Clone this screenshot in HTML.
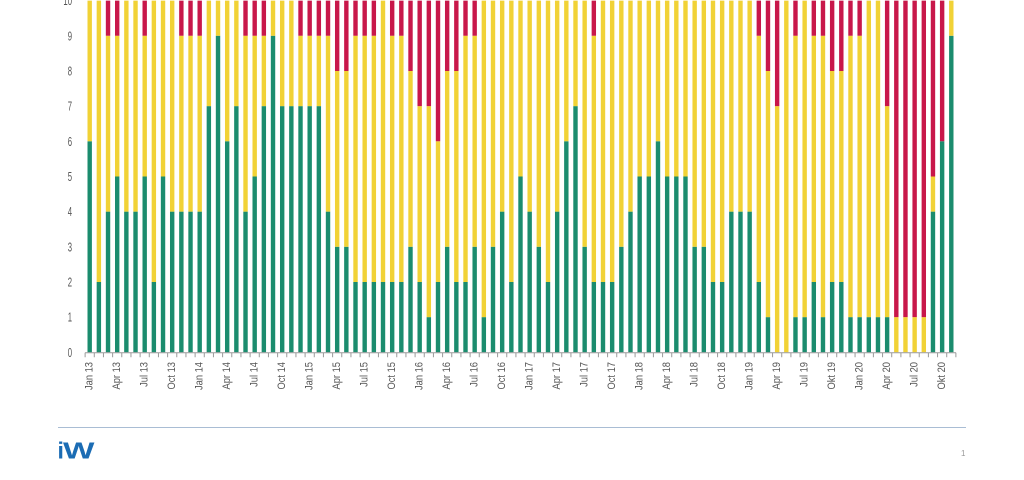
<!DOCTYPE html>
<html><head><meta charset="utf-8"><style>
html,body{margin:0;padding:0;background:#fff;}
svg{display:block;}
text{font-family:"Liberation Sans",sans-serif;}
</style></head><body>
<svg width="1024" height="480" viewBox="0 0 1024 480" xmlns="http://www.w3.org/2000/svg">
<rect width="1024" height="480" fill="#fff"/>
<g fill="none" stroke-width="4.4" stroke-linecap="butt">
<path stroke="#1b8c6e" d="M89.7 141.28V352.3M98.87 281.96V352.3M108.03 211.62V352.3M117.2 176.45V352.3M126.36 211.62V352.3M135.53 211.62V352.3M144.7 176.45V352.3M153.86 281.96V352.3M163.03 176.45V352.3M172.19 211.62V352.3M181.36 211.62V352.3M190.53 211.62V352.3M199.69 211.62V352.3M208.86 106.11V352.3M218.02 35.77V352.3M227.19 141.28V352.3M236.36 106.11V352.3M245.52 211.62V352.3M254.69 176.45V352.3M263.85 106.11V352.3M273.02 35.77V352.3M282.19 106.11V352.3M291.35 106.11V352.3M300.52 106.11V352.3M309.68 106.11V352.3M318.85 106.11V352.3M328.02 211.62V352.3M337.18 246.79V352.3M346.35 246.79V352.3M355.51 281.96V352.3M364.68 281.96V352.3M373.85 281.96V352.3M383.01 281.96V352.3M392.18 281.96V352.3M401.34 281.96V352.3M410.51 246.79V352.3M419.68 281.96V352.3M428.84 317.13V352.3M438.01 281.96V352.3M447.17 246.79V352.3M456.34 281.96V352.3M465.51 281.96V352.3M474.67 246.79V352.3M483.84 317.13V352.3M493 246.79V352.3M502.17 211.62V352.3M511.34 281.96V352.3M520.5 176.45V352.3M529.67 211.62V352.3M538.83 246.79V352.3M548 281.96V352.3M557.17 211.62V352.3M566.33 141.28V352.3M575.5 106.11V352.3M584.66 246.79V352.3M593.83 281.96V352.3M603 281.96V352.3M612.16 281.96V352.3M621.33 246.79V352.3M630.49 211.62V352.3M639.66 176.45V352.3M648.83 176.45V352.3M657.99 141.28V352.3M667.16 176.45V352.3M676.32 176.45V352.3M685.49 176.45V352.3M694.66 246.79V352.3M703.82 246.79V352.3M712.99 281.96V352.3M722.15 281.96V352.3M731.32 211.62V352.3M740.49 211.62V352.3M749.65 211.62V352.3M758.82 281.96V352.3M767.98 317.13V352.3M795.48 317.13V352.3M804.65 317.13V352.3M813.81 281.96V352.3M822.98 317.13V352.3M832.15 281.96V352.3M841.31 281.96V352.3M850.48 317.13V352.3M859.64 317.13V352.3M868.81 317.13V352.3M877.98 317.13V352.3M887.14 317.13V352.3M932.97 211.62V352.3M942.14 141.28V352.3M951.3 35.77V352.3"/>
<path stroke="#f1d236" d="M89.7 0.6V141.28M98.87 0.6V281.96M108.03 35.77V211.62M117.2 35.77V176.45M126.36 0.6V211.62M135.53 0.6V211.62M144.7 35.77V176.45M153.86 0.6V281.96M163.03 0.6V176.45M172.19 0.6V211.62M181.36 35.77V211.62M190.53 35.77V211.62M199.69 35.77V211.62M208.86 0.6V106.11M218.02 0.6V35.77M227.19 0.6V141.28M236.36 0.6V106.11M245.52 35.77V211.62M254.69 35.77V176.45M263.85 35.77V106.11M273.02 0.6V35.77M282.19 0.6V106.11M291.35 0.6V106.11M300.52 35.77V106.11M309.68 35.77V106.11M318.85 35.77V106.11M328.02 35.77V211.62M337.18 70.94V246.79M346.35 70.94V246.79M355.51 35.77V281.96M364.68 35.77V281.96M373.85 35.77V281.96M383.01 0.6V281.96M392.18 35.77V281.96M401.34 35.77V281.96M410.51 70.94V246.79M419.68 106.11V281.96M428.84 106.11V317.13M438.01 141.28V281.96M447.17 70.94V246.79M456.34 70.94V281.96M465.51 35.77V281.96M474.67 35.77V246.79M483.84 0.6V317.13M493 0.6V246.79M502.17 0.6V211.62M511.34 0.6V281.96M520.5 0.6V176.45M529.67 0.6V211.62M538.83 0.6V246.79M548 0.6V281.96M557.17 0.6V211.62M566.33 0.6V141.28M575.5 0.6V106.11M584.66 0.6V246.79M593.83 35.77V281.96M603 0.6V281.96M612.16 0.6V281.96M621.33 0.6V246.79M630.49 0.6V211.62M639.66 0.6V176.45M648.83 0.6V176.45M657.99 0.6V141.28M667.16 0.6V176.45M676.32 0.6V176.45M685.49 0.6V176.45M694.66 0.6V246.79M703.82 0.6V246.79M712.99 0.6V281.96M722.15 0.6V281.96M731.32 0.6V211.62M740.49 0.6V211.62M749.65 0.6V211.62M758.82 35.77V281.96M767.98 70.94V317.13M777.15 106.11V352.3M786.32 0.6V352.3M795.48 35.77V317.13M804.65 0.6V317.13M813.81 35.77V281.96M822.98 35.77V317.13M832.15 70.94V281.96M841.31 70.94V281.96M850.48 35.77V317.13M859.64 35.77V317.13M868.81 0.6V317.13M877.98 0.6V317.13M887.14 106.11V317.13M896.31 317.13V352.3M905.47 317.13V352.3M914.64 317.13V352.3M923.81 317.13V352.3M932.97 176.45V211.62M951.3 0.6V35.77"/>
<path stroke="#c8174a" d="M108.03 0.6V35.77M117.2 0.6V35.77M144.7 0.6V35.77M181.36 0.6V35.77M190.53 0.6V35.77M199.69 0.6V35.77M245.52 0.6V35.77M254.69 0.6V35.77M263.85 0.6V35.77M300.52 0.6V35.77M309.68 0.6V35.77M318.85 0.6V35.77M328.02 0.6V35.77M337.18 0.6V70.94M346.35 0.6V70.94M355.51 0.6V35.77M364.68 0.6V35.77M373.85 0.6V35.77M392.18 0.6V35.77M401.34 0.6V35.77M410.51 0.6V70.94M419.68 0.6V106.11M428.84 0.6V106.11M438.01 0.6V141.28M447.17 0.6V70.94M456.34 0.6V70.94M465.51 0.6V35.77M474.67 0.6V35.77M593.83 0.6V35.77M758.82 0.6V35.77M767.98 0.6V70.94M777.15 0.6V106.11M795.48 0.6V35.77M813.81 0.6V35.77M822.98 0.6V35.77M832.15 0.6V70.94M841.31 0.6V70.94M850.48 0.6V35.77M859.64 0.6V35.77M887.14 0.6V106.11M896.31 0.6V317.13M905.47 0.6V317.13M914.64 0.6V317.13M923.81 0.6V317.13M932.97 0.6V176.45M942.14 0.6V141.28"/>
</g>
<!-- axis -->
<path d="M85 352.8H956" stroke="#9a9a9a" stroke-width="1"/>
<path d="M84.62 355H956.5" stroke="#9a9a9a" stroke-width="4.4" stroke-dasharray="1 8.166"/>
<!-- y labels -->
<g fill="#555" font-size="12.5" text-anchor="end">
<text transform="translate(72,356.8) scale(0.62,1)">0</text>
<text transform="translate(72,321.6) scale(0.62,1)">1</text>
<text transform="translate(72,286.5) scale(0.62,1)">2</text>
<text transform="translate(72,251.3) scale(0.62,1)">3</text>
<text transform="translate(72,216.1) scale(0.62,1)">4</text>
<text transform="translate(72,181) scale(0.62,1)">5</text>
<text transform="translate(72,145.8) scale(0.62,1)">6</text>
<text transform="translate(72,110.6) scale(0.62,1)">7</text>
<text transform="translate(72,75.4) scale(0.62,1)">8</text>
<text transform="translate(72,40.3) scale(0.62,1)">9</text>
<text transform="translate(72,5.1) scale(0.62,1)">10</text>
</g>
<!-- x labels -->
<g fill="#555" font-size="11" text-anchor="end">
<text transform="translate(92.7,362) rotate(-90) scale(0.85,1)">Jan 13</text>
<text transform="translate(120.2,362) rotate(-90) scale(0.85,1)">Apr 13</text>
<text transform="translate(147.7,362) rotate(-90) scale(0.85,1)">Jul 13</text>
<text transform="translate(175.19,362) rotate(-90) scale(0.85,1)">Oct 13</text>
<text transform="translate(202.69,362) rotate(-90) scale(0.85,1)">Jan 14</text>
<text transform="translate(230.19,362) rotate(-90) scale(0.85,1)">Apr 14</text>
<text transform="translate(257.69,362) rotate(-90) scale(0.85,1)">Jul 14</text>
<text transform="translate(285.19,362) rotate(-90) scale(0.85,1)">Oct 14</text>
<text transform="translate(312.68,362) rotate(-90) scale(0.85,1)">Jan 15</text>
<text transform="translate(340.18,362) rotate(-90) scale(0.85,1)">Apr 15</text>
<text transform="translate(367.68,362) rotate(-90) scale(0.85,1)">Jul 15</text>
<text transform="translate(395.18,362) rotate(-90) scale(0.85,1)">Oct 15</text>
<text transform="translate(422.68,362) rotate(-90) scale(0.85,1)">Jan 16</text>
<text transform="translate(450.17,362) rotate(-90) scale(0.85,1)">Apr 16</text>
<text transform="translate(477.67,362) rotate(-90) scale(0.85,1)">Jul 16</text>
<text transform="translate(505.17,362) rotate(-90) scale(0.85,1)">Oct 16</text>
<text transform="translate(532.67,362) rotate(-90) scale(0.85,1)">Jan 17</text>
<text transform="translate(560.17,362) rotate(-90) scale(0.85,1)">Apr 17</text>
<text transform="translate(587.66,362) rotate(-90) scale(0.85,1)">Jul 17</text>
<text transform="translate(615.16,362) rotate(-90) scale(0.85,1)">Oct 17</text>
<text transform="translate(642.66,362) rotate(-90) scale(0.85,1)">Jan 18</text>
<text transform="translate(670.16,362) rotate(-90) scale(0.85,1)">Apr 18</text>
<text transform="translate(697.66,362) rotate(-90) scale(0.85,1)">Jul 18</text>
<text transform="translate(725.15,362) rotate(-90) scale(0.85,1)">Oct 18</text>
<text transform="translate(752.65,362) rotate(-90) scale(0.85,1)">Jan 19</text>
<text transform="translate(780.15,362) rotate(-90) scale(0.85,1)">Apr 19</text>
<text transform="translate(807.65,362) rotate(-90) scale(0.85,1)">Jul 19</text>
<text transform="translate(835.15,362) rotate(-90) scale(0.85,1)">Okt 19</text>
<text transform="translate(862.64,362) rotate(-90) scale(0.85,1)">Jan 20</text>
<text transform="translate(890.14,362) rotate(-90) scale(0.85,1)">Apr 20</text>
<text transform="translate(917.64,362) rotate(-90) scale(0.85,1)">Jul 20</text>
<text transform="translate(945.14,362) rotate(-90) scale(0.85,1)">Okt 20</text>
</g>
<!-- footer -->
<path d="M58 427.5H966" stroke="#a9bdd4" stroke-width="1"/>
<text x="57.5" y="458.3" font-size="23" font-weight="bold" fill="#1b6cb4">i</text>
<text transform="translate(63,458.3) scale(1.45,1)" font-size="23" font-weight="bold" fill="#1b6cb4">W</text>
<text x="961" y="456" font-size="8" fill="#999">1</text>
</svg>
</body></html>
